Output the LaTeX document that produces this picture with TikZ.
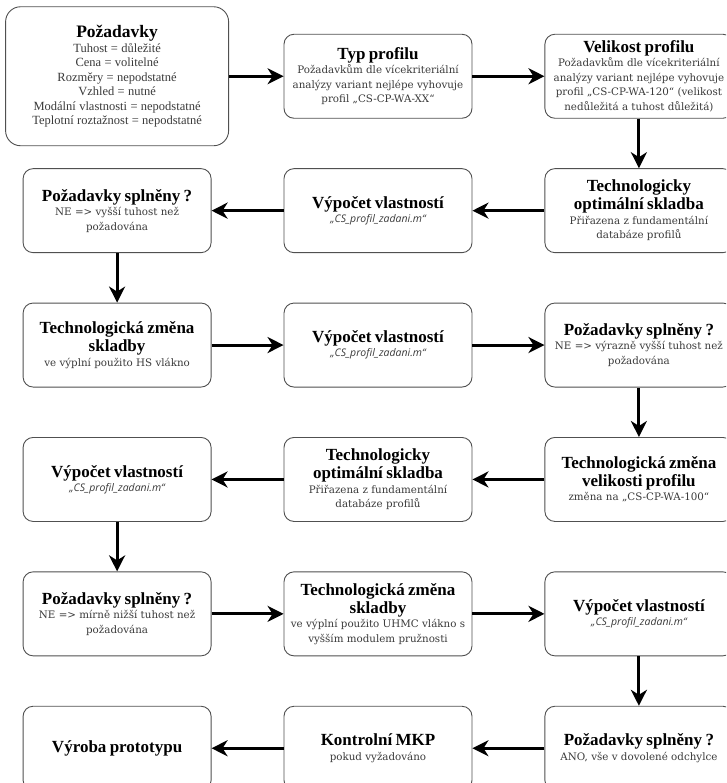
\documentclass[tikz,border=0pt]{standalone}
\usepackage{fontspec}
\setmainfont{Liberation Serif}
\newfontfamily\popisfont{DejaVu Serif}
\newfontfamily\skriptfont{Open Sans}
\usepackage{tikz}
\usetikzlibrary{arrows.meta}
\definecolor{ramecek}{HTML}{505050}
\definecolor{popis}{HTML}{3A3A3A}
\tikzset{krok/.style={draw=ramecek,fill=white,line width=0.9pt,rounded corners=10pt,
                      text width=210pt,inner xsep=-11pt,inner ysep=1pt,
                      minimum width=188pt,minimum height=84pt,align=center}}
\tikzset{zadani/.style={krok,rounded corners=15pt,text width=223pt,
                        minimum width=223pt,minimum height=139pt}}
\newcommand{\nadpis}[1]{{\bfseries\fontsize{17}{18}\selectfont #1\par}}
\newcommand{\popis}[1]{{\popisfont\fontsize{10.3}{14.5}\selectfont\color{popis}#1\par}}
\newcommand{\skript}{{\skriptfont\itshape\fontsize{10.5}{14}\selectfont\color{popis}„CS\_profil\_zadani.m“\par}}

\begin{document}
\begin{tikzpicture}[>={Stealth[length=16pt,width=16pt,inset=5pt]}]
  % the original picture is cut on the right and at the bottom
  \useasboundingbox (0,0) rectangle (726pt,-783pt);
  \clip (0,0) rectangle (726pt,-783pt);

  % All steps of the design sit in a matrix of three columns:
  \matrix[row sep=49.5pt,column sep=72pt] at (378pt,-412.25pt) {
    % First line: choice of the profile
        &
        \node (typ) [krok] {\nadpis{Typ profilu}\popis{Požadavkům dle vícekriteriální\\analýzy variant nejlépe vyhovuje\\profil „CS-CP-WA-XX“}}; &
        \node (velikost) [krok] {\nadpis{Velikost profilu}\popis{Požadavkům dle vícekriteriální\\analýzy variant nejlépe vyhovuje\\profil „CS-CP-WA-120“ (velikost\\nedůležitá a tuhost důležitá)}};
        \\
        % Second line: optimal layup
        \node (splneno_1) [krok] {\nadpis{Požadavky splněny ?}\popis{NE => vyšší tuhost než\\požadována}}; &
        \node (vypocet_1) [krok] {\nadpis{Výpočet vlastností}\skript}; &
        \node (skladba_1) [krok] {\nadpis{Technologicky\\optimální skladba}\popis{Přiřazena z fundamentální\\databáze profilů}};
        \\
        % Third line: HS fibre
        \node (zmena_1) [krok] {\nadpis{Technologická změna\\skladby}\popis{ve výplní použito HS vlákno}}; &
        \node (vypocet_2) [krok] {\nadpis{Výpočet vlastností}\skript}; &
        \node (splneno_2) [krok] {\nadpis{Požadavky splněny ?}\popis{NE => výrazně vyšší tuhost než\\požadována}};
        \\
        % Fourth line: smaller profile
        \node (vypocet_3) [krok] {\nadpis{Výpočet vlastností}\skript}; &
        \node (skladba_2) [krok] {\nadpis{Technologicky\\optimální skladba}\popis{Přiřazena z fundamentální\\databáze profilů}}; &
        \node (zmena_vel) [krok] {\nadpis{Technologická změna\\velikosti profilu}\popis{změna na „CS-CP-WA-100“}};
        \\
        % Fifth line: UHMC fibre
        \node (splneno_3) [krok] {\nadpis{Požadavky splněny ?}\popis{NE => mírně nižší tuhost než\\požadována}}; &
        \node (zmena_2) [krok] {\nadpis{Technologická změna\\skladby}\popis{ve výplní použito UHMC vlákno s\\vyšším modulem pružnosti}}; &
        \node (vypocet_4) [krok] {\nadpis{Výpočet vlastností}\skript};
        \\
        % Sixth line: check and prototype
        \node (vyroba) [krok] {\nadpis{Výroba prototypu}}; &
        \node (mkp) [krok] {\nadpis{Kontrolní MKP}\popis{pokud vyžadováno}}; &
        \node (splneno_4) [krok] {\nadpis{Požadavky splněny ?}\popis{ANO, vše v dovolené odchylce}};
        \\
  };

  % the requirements are larger, so they are put in the empty cell afterwards
  \node (pozadavky) [zadani] at (splneno_1 |- typ) {{\bfseries\fontsize{17.5}{19}\selectfont Požadavky\par}%
    {\fontsize{12.5}{14.5}\selectfont\color{popis}Tuhost = důležité\\Cena = volitelné\\Rozměry = nepodstatné\\Vzhled = nutné\\Modální vlastnosti = nepodstatné\\Teplotní roztažnost = nepodstatné\par}};

  % The steps are now connected through arrows:
  \path[->,line width=3pt]
      (pozadavky) edge (typ)
      (typ) edge (velikost)
      (velikost) edge (skladba_1)

      (skladba_1) edge (vypocet_1)
      (vypocet_1) edge (splneno_1)
      (splneno_1) edge (zmena_1)

      (zmena_1) edge (vypocet_2)
      (vypocet_2) edge (splneno_2)
      (splneno_2) edge (zmena_vel)

      (zmena_vel) edge (skladba_2)
      (skladba_2) edge (vypocet_3)
      (vypocet_3) edge (splneno_3)

      (splneno_3) edge (zmena_2)
      (zmena_2) edge (vypocet_4)
      (vypocet_4) edge (splneno_4)

      (splneno_4) edge (mkp)
      (mkp) edge (vyroba)
      ;
\end{tikzpicture}
\end{document}
